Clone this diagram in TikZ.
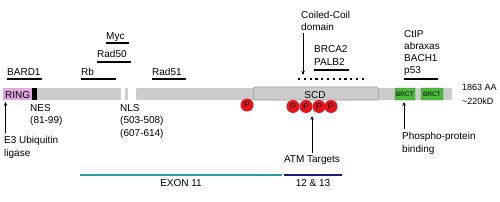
\documentclass[tikz,border=0pt]{standalone}
\usepackage{fontspec}
\setmainfont{Liberation Sans}
\usetikzlibrary{arrows.meta}
\definecolor{bargray}{HTML}{CCCCCC}
\definecolor{edgegray}{HTML}{9A9A9A}
\definecolor{ringpink}{HTML}{DFA8DF}
\definecolor{brctgreen}{HTML}{4CBB3C}
\definecolor{pred}{HTML}{E8141C}
\definecolor{exonteal}{HTML}{2A9D9D}
\definecolor{exonnavy}{HTML}{1C1C80}
\tikzset{
  lbl/.style={anchor=base west, inner sep=0pt, font=\fontsize{10}{12.5}\selectfont, align=left},
  ulbar/.style={line width=2.6pt},
  arr/.style={line width=0.7pt, -{Stealth[length=4pt,width=3.5pt]}},
  pcirc/.style={circle, fill=pred, minimum size=13pt, inner sep=0pt, font=\fontsize{8.5}{9}\selectfont},
  brct/.style={fill=brctgreen, draw=brctgreen!70!black, line width=0.4pt, rounded corners=1pt},
}
\begin{document}
\begin{tikzpicture}[x=1pt,y=-1pt]
\useasboundingbox (0,0) rectangle (500,201);
% bar
\fill[bargray, rounded corners=1pt] (3,88) rectangle (121,100);
\fill[bargray] (124.5,88) rectangle (127.5,100);
\fill[bargray, rounded corners=1pt] (136,88) rectangle (452,100);
\fill[ringpink] (3,88) rectangle (32,100);
\fill[black] (32,88) rectangle (37,100);
\node[anchor=base west, inner sep=0pt, font=\fontsize{10}{12}\selectfont] (ring) at (5,98) {RING};
% SCD
\node[draw=edgegray, fill=bargray, rounded corners=1.5pt, line width=0.6pt, minimum width=125pt, minimum height=13pt, inner sep=0pt, anchor=west] (scd) at (253,93.5) {};
\node[anchor=base, inner sep=0pt, font=\fontsize{10}{12}\selectfont] (scdt) at (315,98) {SCD};
% BRCT
\node[brct, minimum width=20pt, minimum height=12pt, inner sep=0pt, font=\fontsize{6.5}{7}\selectfont] (brct1) at (405,94) {BRCT};
\node[brct, minimum width=22pt, minimum height=12pt, inner sep=0pt, font=\fontsize{6.5}{7}\selectfont] (brct2) at (432,94) {BRCT};
% P circles
\node[pcirc] (p0) at (247,105) {P};
\node[pcirc] (p1) at (293,106.5) {P};
\node[pcirc] (p2) at (306,106.5) {P};
\node[pcirc] (p3) at (319,106.5) {P};
\node[pcirc] (p4) at (331,106.5) {P};
% top labels
\node[lbl] (myc) at (106,39.5) {Myc};
\draw[ulbar] (106,43) -- (129,43);
\node[lbl] (rad50) at (97,57) {Rad50};
\draw[ulbar] (97,62) -- (131,62);
\node[lbl] (bard1) at (7,75) {BARD1};
\draw[ulbar] (7,79) -- (42,79);
\node[lbl] (rb) at (81,75) {Rb};
\draw[ulbar] (81,79) -- (116,79);
\node[lbl] (rad51) at (152,75) {Rad51};
\draw[ulbar] (152,79) -- (186,79);
\node[lbl] (cc) at (301,30.5) {Coiled-Coil\\domain};
\coordinate (cctip) at (303,75);
\draw[arr] (cc.south west -| cctip) ++(0,2) -- (cctip);
\node[lbl] (brca) at (314,65) {BRCA2\\PALB2};
\draw[ulbar] (314,70) -- (349,70);
\draw[line width=2.4pt, dash pattern=on 2.2pt off 3.6pt] (298,79) -- (366,79);
\node[lbl, font=\fontsize{10}{11.7}\selectfont] (ctip) at (404,73) {CtIP\\abraxas\\BACH1\\p53};
\draw[ulbar] (404,79) -- (438,79);
\node[lbl, font=\fontsize{9}{14}\selectfont] (aa) at (462,104) {1863 AA\\{\textasciitilde}220kD};
% bottom labels
\node[lbl] (e3) at (4,156) {E3 Ubiquitin\\ligase};
\coordinate (e3tip) at (5.5,102);
\draw[arr] (e3.north west -| e3tip) ++(0,-3) -- (e3tip);
\node[lbl] (nes) at (30,123.5) {NES\\(81-99)};
\node[lbl] (nls) at (120,136) {NLS\\(503-508)\\(607-614)};
\node[lbl, anchor=base] (atm) at (312,162) {ATM Targets};
\coordinate (atmtip) at (312,116);
\draw[arr] (atm.north) ++(0,-2) -- (atmtip);
\node[lbl] (phos) at (402,152) {Phospho-protein\\binding};
\coordinate (phostip) at (404,102);
\draw[arr] (phos.north west -| phostip) ++(0,-3) -- (phostip);
% exons
\draw[exonteal, line width=2.2pt] (80,175) -- (282,175);
\node[lbl, anchor=base] (ex11) at (181,186) {EXON 11};
\draw[exonnavy, line width=2.2pt] (284,175) -- (342,175);
\node[lbl, anchor=base] (ex12) at (313,186) {12 \& 13};
\end{tikzpicture}
\end{document}
